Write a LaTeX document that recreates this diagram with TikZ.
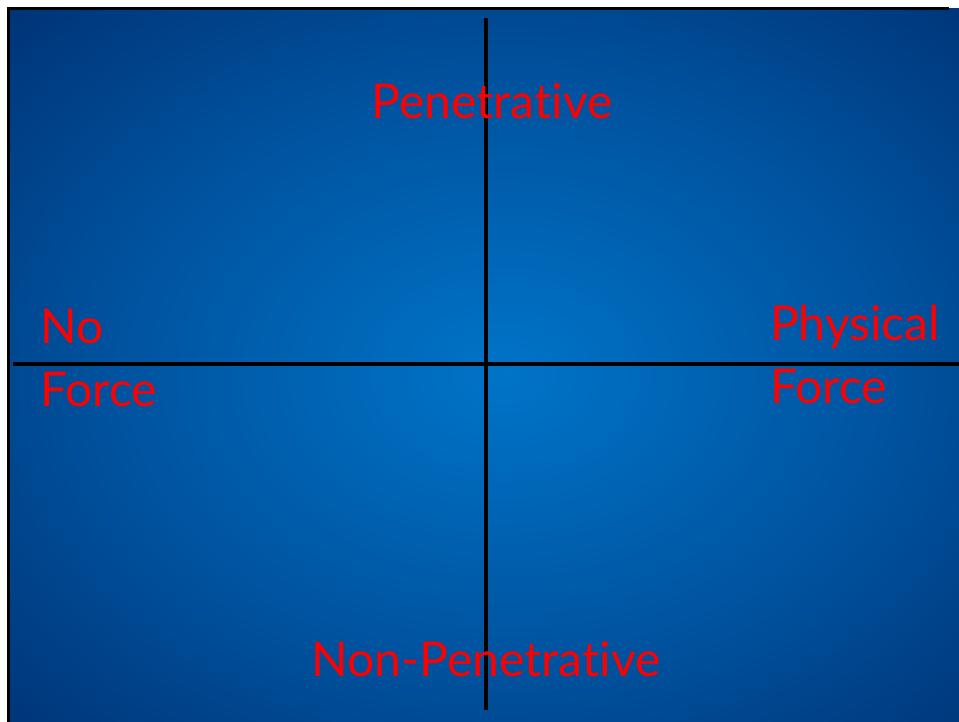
\documentclass[tikz,border=0pt]{standalone}
\usepackage{fontspec}
\setmainfont{Lato}[Ligatures={NoCommon}]
\definecolor{bgin}{RGB}{0,116,200}
\definecolor{bgmid}{RGB}{0,82,158}
\definecolor{bgout}{RGB}{0,38,102}
\definecolor{lbl}{RGB}{255,0,0}
\pgfdeclareradialshading{slidebg}{\pgfpoint{0bp}{0bp}}{color(0bp)=(bgin); color(20bp)=(bgmid); color(42bp)=(bgout); color(80bp)=(bgout)}
\tikzset{
  axis/.style={line width=3.5pt, black},
  lab/.style={text=lbl, font=\fontsize{48}{62}\selectfont, inner sep=0pt, align=left}
}
\begin{document}
\begin{tikzpicture}[x=1pt,y=-1pt]
\useasboundingbox (0,0) rectangle (959,721);
\fill[white] (0,0) rectangle (959,721);
\shade[shading=slidebg, shading angle=0] (8.5,8.5) rectangle (1000,740);
\draw[line width=3pt] (8.5,740) -- (8.5,8.5) -- (949,8.5);
\coordinate (hl) at (13,364);
\coordinate (hr) at (959,364);
\coordinate (vt) at (486,18);
\coordinate (vb) at (486,710);
\draw[axis] (hl) -- (hr);
\draw[axis] (vt) -- (vb);
\node[lab, anchor=base] (pen) at (492,118) {Penetrative};
\node[lab, anchor=base] (npen) at (486,676) {Non-Penetrative};
\node[lab, anchor=base west] (no) at (40,343) {No};
\node[lab, anchor=base west] (noforce) at (40,406) {Force};
\node[lab, anchor=base west] (phys) at (770,340) {Physical};
\node[lab, anchor=base west] (physforce) at (770,403) {Force};
\end{tikzpicture}
\end{document}
